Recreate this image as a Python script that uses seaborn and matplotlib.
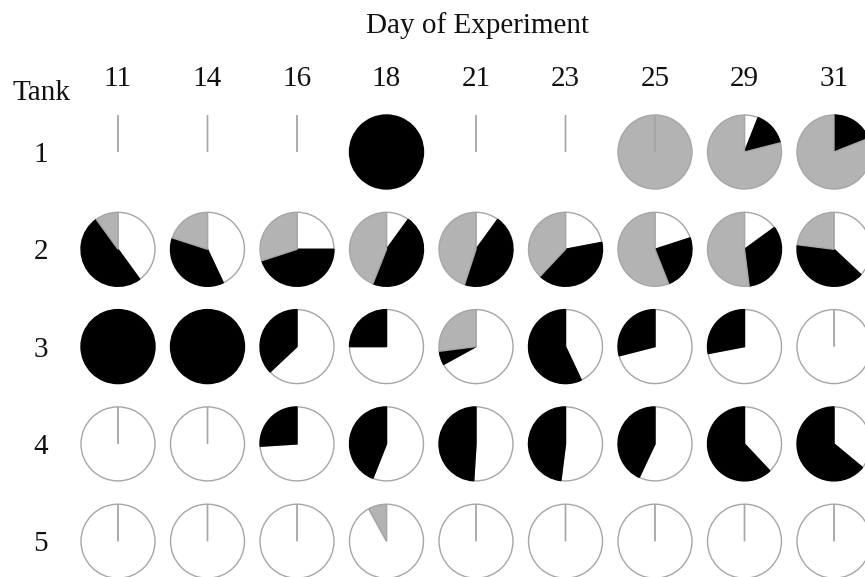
import numpy as np
import matplotlib
matplotlib.use('Agg')
import matplotlib.pyplot as plt
import seaborn as sns

days = [11, 14, 16, 18, 21, 23, 25, 29, 31]
tanks = [1, 2, 3, 4, 5]
nan = np.nan

# percentages per tank (rows) and day (columns); clockwise from 12 o'clock: white, black, grey
white = [
    [nan, nan, nan, 0, nan, nan, 0, 6, 0],
    [40, 43, 25, 10, 10, 22, 20, 15, 37],
    [0, 0, 63, 75, 67, 43, 71, 72, 100],
    [100, 100, 74, 56, 51, 52, 57, 38, 36],
    [100, 100, 100, 92, 100, 100, 100, 100, 100],
]
black = [
    [nan, nan, nan, 100, nan, nan, 0, 15, 19],
    [50, 37, 45, 46, 45, 40, 24, 33, 40],
    [100, 100, 37, 25, 6, 57, 29, 28, 0],
    [0, 0, 26, 44, 49, 48, 43, 62, 64],
    [0, 0, 0, 0, 0, 0, 0, 0, 0],
]
grey = [
    [nan, nan, nan, 0, nan, nan, 100, 79, 81],
    [10, 20, 30, 44, 45, 38, 56, 52, 23],
    [0, 0, 0, 0, 27, 0, 0, 0, 0],
    [0, 0, 0, 0, 0, 0, 0, 0, 0],
    [0, 0, 0, 8, 0, 0, 0, 0, 0],
]

sns.set_theme(style='white')
plt.rcParams['font.family'] = ['Liberation Serif', 'DejaVu Serif']

W, H = 865, 577
fig = plt.figure(figsize=(W / 100, H / 100), dpi=100)
ax = fig.add_axes([60 / W, 0, 805 / W, 477 / H])

fill_colors = ['#ffffff', '#000000', '#b3b3b3']
edge_colors = ['#a6a6a6', '#000000', '#a6a6a6']
px_unit = 89.5
col_step = 1.0
row_step = 97.3 / px_unit
radius = 37 / px_unit

for j, t in enumerate(tanks):
    for i, d in enumerate(days):
        vals = [white[j][i], black[j][i], grey[j][i]]
        missing = bool(np.isnan(vals).any())
        if missing:
            vals = [1, 0, 0]
        wedges, _ = ax.pie(vals, colors=fill_colors, startangle=90, counterclock=False,
                           center=(i * col_step, -j * row_step), radius=radius, frame=True,
                           wedgeprops=dict(linewidth=1.0))
        total = sum(vals)
        full_k = None
        for k, (w, v) in enumerate(zip(wedges, vals)):
            w.set_edgecolor(edge_colors[k])
            if v == total:
                full_k = k
        line_col = None
        if full_k is not None:
            line_col = '#a6a6a6' if missing else edge_colors[full_k]
        for k, (w, v) in enumerate(zip(wedges, vals)):
            if v == 0:
                if line_col is None:
                    w.set_visible(False)
                else:
                    w.set_edgecolor(line_col)
                    w.set_zorder(3)
        if missing:
            wedges[full_k].set_edgecolor('none')

ax.set_aspect('auto')
ax.set_xlim((60 - 118) / px_unit, (865 - 118) / px_unit)
ax.set_ylim(-(577 - 152) / px_unit, (152 - 100) / px_unit)

ax.set_xticks([i * col_step for i in range(len(days))], labels=[str(d) for d in days])
ax.set_yticks([-j * row_step for j in range(len(tanks))], labels=[str(t) for t in tanks])
ax.xaxis.tick_top()
ax.tick_params(axis='both', length=0, labelsize=21, colors='#111111')
ax.tick_params(axis='x', pad=5.4)
ax.tick_params(axis='y', pad=8.6)
sns.despine(ax=ax, left=True, bottom=True, top=True, right=True)
ax.grid(False)

fig.text(41 / W, 1 - 100 / H, 'Tank', ha='center', va='baseline', fontsize=21, color='#111111')
fig.text(477.5 / W, 1 - 33 / H, 'Day of Experiment', ha='center', va='baseline', fontsize=21,
         color='#111111')

fig.savefig('out.png', dpi=100)
